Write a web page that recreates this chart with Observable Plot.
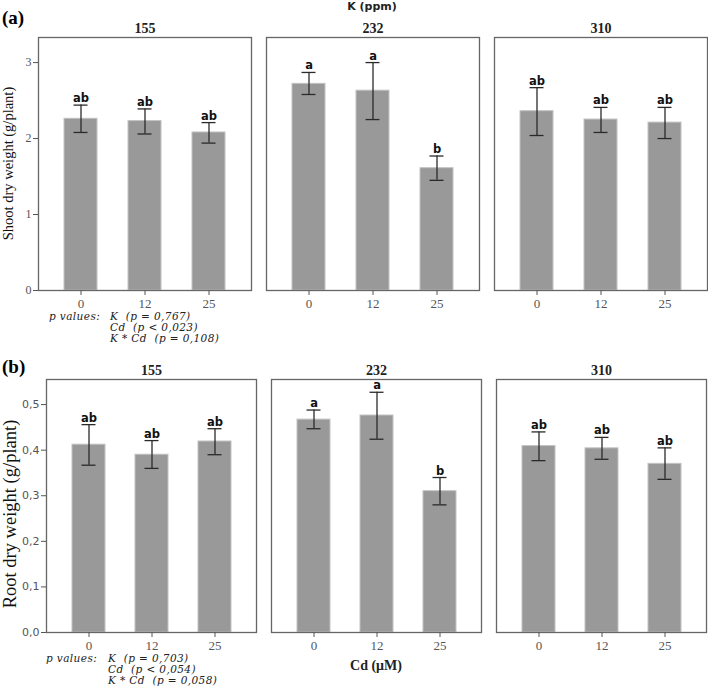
<!DOCTYPE html>
<html>
<head>
<meta charset="utf-8">
<script src="https://cdn.jsdelivr.net/npm/d3@7"></script>
<script src="https://cdn.jsdelivr.net/npm/@observablehq/plot@0.6"></script>
<style>
  body { margin: 0; background: #fff; }
  #wrap { position: relative; width: 708px; height: 694px; background: #fff; overflow: hidden; }
  #wrap svg { position: absolute; left: 0; }
</style>
</head>
<body>
<div id="wrap"></div>
<script>
// ---- data ----
const K_levels = ["155", "232", "310"];
const Cd_levels = ["0", "12", "25"];

// Shoot dry weight (g/plant), order: K155 (0,12,25), K232 (0,12,25), K310 (0,12,25)
const shootMean = [2.26, 2.23, 2.08, 2.72, 2.63, 1.61, 2.36, 2.25, 2.21];
const shootLo   = [2.08, 2.06, 1.94, 2.58, 2.25, 1.45, 2.04, 2.08, 2.00];
const shootHi   = [2.44, 2.39, 2.21, 2.87, 3.00, 1.77, 2.67, 2.41, 2.41];
const shootLetters = ["ab", "ab", "ab", "a", "a", "b", "ab", "ab", "ab"];
const shootTicks = [0, 1, 2, 3];

// Root dry weight (g/plant)
const rootMean = [0.412, 0.390, 0.419, 0.467, 0.476, 0.310, 0.409, 0.404, 0.370];
const rootLo   = [0.367, 0.360, 0.390, 0.447, 0.424, 0.280, 0.377, 0.380, 0.336];
const rootHi   = [0.456, 0.421, 0.447, 0.488, 0.527, 0.340, 0.440, 0.428, 0.405];
const rootLetters = ["ab", "ab", "ab", "a", "a", "b", "ab", "ab", "ab"];
const rootTicks = [0, 0.1, 0.2, 0.3, 0.4, 0.5];

const pA = ["K  (p = 0,767)", "Cd  (p < 0,023)", "K * Cd  (p = 0,108)"];
const pB = ["K  (p = 0,703)", "Cd  (p < 0,054)", "K * Cd  (p = 0,058)"];

function rows(mean, lo, hi, letters) {
  const out = [];
  K_levels.forEach((k, i) => Cd_levels.forEach((c, j) => {
    const n = i * 3 + j;
    out.push({K: k, Cd: c, mean: mean[n], lo: lo[n], hi: hi[n], letter: letters[n]});
  }));
  return out;
}

function panel({data, height, marginTop, marginBottom, marginLeft, yMax, ticks, tickFormat, yFont}) {
  return Plot.plot({
    width: 708,
    height,
    marginTop, marginBottom, marginLeft, marginRight: 1,
    style: {background: "white", overflow: "visible"},
    fx: {domain: K_levels, paddingInner: 0.066, paddingOuter: 0},
    x: {domain: Cd_levels, paddingInner: 0.48, paddingOuter: 0.4},
    y: {domain: [0, yMax]},
    marks: [
      Plot.barY(data, {fx: "K", x: "Cd", y: "mean", fill: "#999999", stroke: "#c2c2c2", strokeWidth: 1}),
      Plot.ruleX(data, {fx: "K", x: "Cd", y1: "lo", y2: "hi", stroke: "#2a2a2a", strokeWidth: 1.3}),
      Plot.tickY(data, {fx: "K", x: "Cd", y: "hi", inset: 9.5, stroke: "#2a2a2a", strokeWidth: 1.3}),
      Plot.tickY(data, {fx: "K", x: "Cd", y: "lo", inset: 9.5, stroke: "#2a2a2a", strokeWidth: 1.3}),
      Plot.text(data, {fx: "K", x: "Cd", y: "hi", text: "letter", dy: -3, lineAnchor: "bottom",
        fontWeight: "bold", fontSize: 11.5, fontFamily: "DejaVu Sans", fill: "#111"}),
      Plot.frame({stroke: "#666", strokeWidth: 1.3}),
      Plot.axisFx({anchor: "top", tickSize: 0, tickPadding: 5, label: null,
        fontSize: 14, fontWeight: "bold", fontFamily: "Liberation Serif", color: "#222"}),
      Plot.axisX({tickSize: 5, tickPadding: 3, label: null,
        fontSize: 13, fontFamily: "Liberation Serif", color: "#555"}),
      Plot.axisY({ticks, tickFormat, tickSize: 5, tickPadding: 2, label: null,
        fontSize: yFont.size, fontFamily: yFont.family, color: "#555"})
    ]
  });
}

const wrap = document.getElementById("wrap");

// ---- (a) shoot ----
const svgA = panel({
  data: rows(shootMean, shootLo, shootHi, shootLetters),
  height: 345, marginTop: 37, marginBottom: 55, marginLeft: 37,
  yMax: 3.33, ticks: shootTicks, tickFormat: d => String(d),
  yFont: {size: 12, family: "Liberation Serif"}
});
svgA.style.top = "0px";
wrap.appendChild(svgA);

// ---- (b) root ----
const svgB = panel({
  data: rows(rootMean, rootLo, rootHi, rootLetters),
  height: 349, marginTop: 34, marginBottom: 62, marginLeft: 46,
  yMax: 0.555, ticks: rootTicks, tickFormat: d => d.toFixed(1).replace(".", ","),
  yFont: {size: 11, family: "DejaVu Sans"}
});
svgB.style.top = "345px";
wrap.appendChild(svgB);

// ---- annotations ----
function addText(svg, x, y, str, attrs) {
  const t = d3.select(svg).append("text")
    .attr("x", x).attr("y", y).attr("text-anchor", "start").text(str)
    .style("white-space", "pre");
  Object.entries(attrs).forEach(([k, v]) => t.attr(k, v));
  return t;
}

const pStyle = {"font-family": "DejaVu Serif", "font-style": "italic", "font-size": 10.5, "letter-spacing": 0.4, fill: "#222"};

// (a)
addText(svgA, 2, 24, "(a)", {"font-family": "Liberation Serif", "font-weight": "bold", "font-size": 19, fill: "#000"});
addText(svgA, 372, 10, "K (ppm)", {"font-family": "DejaVu Sans", "font-weight": "bold", "font-size": 11, "text-anchor": "middle", fill: "#222"});
addText(svgA, 0, 0, "Shoot dry weight (g/plant)", {"font-family": "Liberation Serif", "font-size": 14.5,
  "text-anchor": "middle", transform: "translate(13,163.5) rotate(-90)", fill: "#111"});
addText(svgA, 49, 320, "p values:", pStyle);
pA.forEach((s, i) => addText(svgA, 110, 320 + i * 11, s, pStyle));

// (b)
addText(svgB, 2, 28, "(b)", {"font-family": "Liberation Serif", "font-weight": "bold", "font-size": 19, fill: "#000"});
addText(svgB, 0, 0, "Root dry weight (g/plant)", {"font-family": "Liberation Serif", "font-size": 18.5,
  "text-anchor": "middle", transform: "translate(16,169) rotate(-90)", fill: "#111"});
addText(svgB, 376, 325, "Cd (\u03bcM)", {"font-family": "Liberation Serif", "font-weight": "bold", "font-size": 14, "text-anchor": "middle", fill: "#222"});
addText(svgB, 46, 317, "p values:", pStyle);
pB.forEach((s, i) => addText(svgB, 108, 317 + i * 11, s, pStyle));
</script>
</body>
</html>
